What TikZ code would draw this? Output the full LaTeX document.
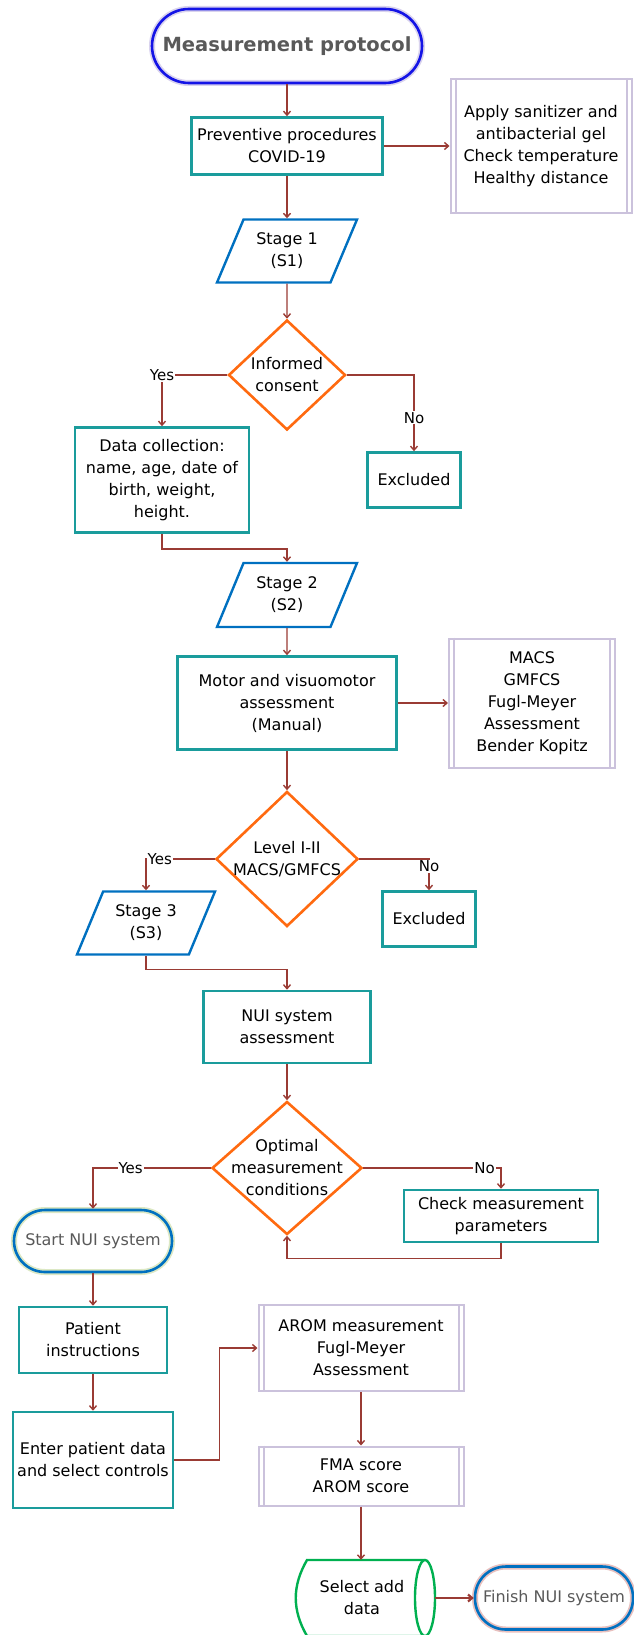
\documentclass[tikz,border=0pt]{standalone}
\usepackage{fontspec}
\setmainfont{DejaVu Sans}
\usetikzlibrary{shapes.geometric,arrows.meta}
\definecolor{tealbox}{HTML}{1A9C9C}
\definecolor{stageblue}{HTML}{0070C0}
\definecolor{termblue}{HTML}{1414E6}
\definecolor{decorange}{HTML}{FF6A10}
\definecolor{lavbox}{HTML}{CBC2DC}
\definecolor{arrowred}{HTML}{9A3B34}
\definecolor{storegreen}{HTML}{00B050}
\definecolor{textgray}{HTML}{595959}
\definecolor{glowlav}{HTML}{D9D3EE}
\definecolor{glowgreen}{HTML}{DCE8C4}
\definecolor{glowpink}{HTML}{E8C0BE}
\tikzset{
  every node/.style={font=\fontsize{16}{22}\selectfont, align=center},
  procbox/.style={rectangle, draw=tealbox, line width=2.6pt, inner sep=2pt},
  stagebox/.style={trapezium, trapezium left angle=64, trapezium right angle=116,
    trapezium stretches=true, draw=stageblue, line width=2.4pt},
  decision/.style={diamond, draw=decorange, line width=2.6pt, inner sep=0pt},
  predef/.style={rectangle, draw=lavbox, line width=2pt},
  terminal/.style={rectangle, rounded corners=#1, line width=2.6pt, inner sep=1pt},
  storeline/.style={draw=storegreen, line width=2.4pt},
  flow/.style={draw=arrowred, line width=1.4pt, -{Straight Barb[length=4pt,width=7pt]}},
  answer/.style={fill=white, inner sep=1pt, font=\fontsize{15}{18}\selectfont}
}
\begin{document}
\begin{tikzpicture}[x=1pt, y=-1pt]
  \useasboundingbox (0,0) rectangle (634,1635);
  % main column
  \node[terminal=37pt, draw=termblue, preaction={draw=glowlav, line width=6pt},
    minimum width=270, minimum height=74, text=textgray,
    font=\fontsize{19.5}{24}\selectfont\bfseries] (proto) at (287,46) {Measurement protocol};
  \node[procbox, minimum width=191, minimum height=57] (prev) at (287,146) {Preventive procedures\\COVID-19};
  \node[predef, minimum width=181, minimum height=134] (apply) at (541,146)
    {Apply sanitizer and\\antibacterial gel\\Check temperature\\Healthy distance};
  \node[stagebox, minimum width=140, minimum height=63] (s1) at (287,251) {Stage 1\\(S1)};
  \node[decision, minimum width=117, minimum height=110,
    label=center:{Informed\\consent}] (consent) at (287,375) {};
  \node[procbox, minimum width=174, minimum height=105] (data) at (162,480)
    {Data collection:\\name, age, date of\\birth, weight,\\height.};
  \node[procbox, minimum width=93, minimum height=55] (excl1) at (414,480) {Excluded};
  \node[stagebox, minimum width=140, minimum height=64] (s2) at (287,595) {Stage 2\\(S2)};
  \node[procbox, minimum width=219, minimum height=93] (motor) at (287,703)
    {Motor and visuomotor\\assessment\\(Manual)};
  \node[predef, minimum width=166, minimum height=129] (macs) at (532,703)
    {MACS\\GMFCS\\Fugl-Meyer\\Assessment\\Bender Kopitz};
  \node[decision, minimum width=142, minimum height=135,
    label=center:{Level I-II\\MACS/GMFCS}] (level) at (287,859) {};
  \node[stagebox, minimum width=138, minimum height=63] (s3) at (146,923) {Stage 3\\(S3)};
  \node[procbox, minimum width=93, minimum height=55] (excl2) at (429,919) {Excluded};
  \node[procbox, minimum width=167, minimum height=72] (nui) at (287,1027) {NUI system\\assessment};
  \node[decision, minimum width=150, minimum height=133,
    label=center:{Optimal\\measurement\\conditions}] (opt) at (287,1168) {};
  \node[terminal=31pt, draw=stageblue, preaction={draw=glowgreen, line width=6pt},
    minimum width=158, minimum height=62, text=textgray] (start) at (93,1241) {Start NUI system};
  \node[procbox, minimum width=194, minimum height=52] (check) at (501,1216)
    {Check measurement\\parameters};
  \node[procbox, minimum width=148, minimum height=66] (patient) at (93,1340) {Patient\\instructions};
  \node[procbox, minimum width=160, minimum height=96] (enter) at (93,1460)
    {Enter patient data\\and select controls};
  \node[predef, minimum width=205, minimum height=86] (arom) at (361,1348)
    {AROM measurement\\Fugl-Meyer\\Assessment};
  \node[predef, minimum width=205, minimum height=59] (fma) at (361,1476) {FMA score\\AROM score};
  \node[minimum width=118, minimum height=76] (sel) at (362,1598) {Select add\\data};
  \node[terminal=31pt, draw=stageblue, preaction={draw=glowpink, line width=6pt},
    minimum width=158, minimum height=63, text=textgray] (finish) at (554,1598) {Finish NUI system};
  % stored data outline
  \draw[storeline] (425,1560) -- (307,1560) .. controls (292,1586) and (292,1610) .. (307,1636)
    -- (425,1636) (425,1598) ellipse [x radius=10, y radius=38];
  \coordinate (selend) at (435,1598);
  % double sides of the predefined boxes
  \foreach \p in {apply,macs,arom,fma}
    \draw[lavbox, line width=2pt] ([xshift=6pt]\p.north west) -- ([xshift=6pt]\p.south west)
      ([xshift=-6pt]\p.north east) -- ([xshift=-6pt]\p.south east);
  \begin{scope}[flow]
    \draw (proto) -- (prev);
    \draw (prev) -- (apply);
    \draw (prev) -- (s1);
    \draw (s1) -- (consent);
    \draw (consent.west) -| node[answer]{Yes} (data.north);
    \draw (consent.east) -| node[answer, pos=0.78]{No} (excl1.north);
    \draw (data.south) -- ++(0,15) -| (s2.north);
    \draw (s2) -- (motor);
    \draw (motor) -- (macs);
    \draw (motor) -- (level);
    \draw (level.west) -| node[answer, anchor=west]{Yes} (s3.north);
    \draw (level.east) -| node[answer, anchor=north]{No} (excl2.north);
    \draw (s3.south) -- ++(0,14) -| (nui.north);
    \draw (nui) -- (opt);
    \draw (opt.west) -| node[answer, pos=0.34]{Yes} (start.north);
    \draw (opt.east) -| node[answer, pos=0.44]{No} (check.north);
    \draw (check.south) -- ++(0,15) -| (opt.south);
    \draw (start) -- (patient);
    \draw (patient) -- (enter);
    \draw (enter.east) -- ++(45,0) |- (arom.west);
    \draw (arom) -- (fma);
    \draw (fma.south) -- (fma.south |- sel.north);
    \draw[line width=2.2pt] (selend) -- (finish.west);
  \end{scope}
\end{tikzpicture}
\end{document}
